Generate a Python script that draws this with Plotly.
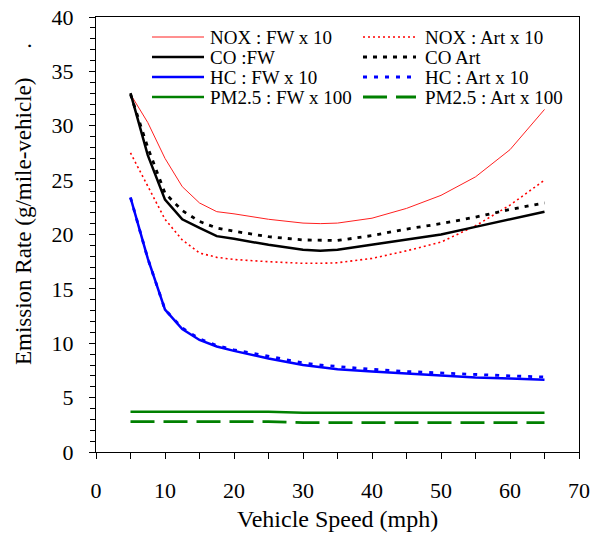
import plotly.graph_objects as go

# ---------------- data ----------------
speed = [5, 7.5, 10, 12.5, 15, 17.5, 20, 25, 30, 32.5, 35, 40, 45, 50, 55, 60, 65]

nox_fw = [32.9, 30.3, 27.0, 24.4, 22.9, 22.1, 21.9, 21.4, 21.05, 21.0, 21.05, 21.5, 22.4, 23.6, 25.3, 27.8, 31.5]
nox_art = [27.5, 24.5, 21.4, 19.5, 18.3, 17.9, 17.7, 17.5, 17.35, 17.35, 17.4, 17.8, 18.5, 19.3, 20.8, 22.7, 25.0]
co_fw = [33.0, 27.3, 23.2, 21.4, 20.6, 19.85, 19.6, 19.05, 18.6, 18.5, 18.6, 19.05, 19.5, 20.0, 20.7, 21.4, 22.1]
co_art = [32.9, 28.0, 23.8, 22.2, 21.2, 20.6, 20.3, 19.8, 19.5, 19.45, 19.45, 19.9, 20.5, 21.0, 21.6, 22.3, 22.9]
hc_fw = [23.4, 17.8, 13.1, 11.3, 10.3, 9.7, 9.3, 8.6, 8.0, 7.8, 7.6, 7.4, 7.2, 7.05, 6.85, 6.75, 6.65]
hc_art = [23.4, 17.8, 13.1, 11.4, 10.4, 9.8, 9.4, 8.8, 8.2, 8.0, 7.85, 7.6, 7.4, 7.25, 7.1, 7.0, 6.9]
pm_fw = [3.7, 3.7, 3.7, 3.7, 3.7, 3.7, 3.7, 3.7, 3.6, 3.6, 3.6, 3.6, 3.6, 3.6, 3.6, 3.6, 3.6]
pm_art = [2.8, 2.8, 2.8, 2.8, 2.8, 2.8, 2.8, 2.8, 2.7, 2.7, 2.7, 2.7, 2.7, 2.7, 2.7, 2.7, 2.7]

series_names = ["NOX : FW x 10", "NOX : Art x 10", "CO :FW", "CO Art",
                "HC : FW x 10", "HC : Art x 10", "PM2.5 : FW x 100", "PM2.5 : Art x 100"]
series_values = [nox_fw, nox_art, co_fw, co_art, hc_fw, hc_art, pm_fw, pm_art]

x_ticks = [0, 10, 20, 30, 40, 50, 60, 70]
y_ticks = [0, 5, 10, 15, 20, 25, 30, 35, 40]

# ---------------- styles ----------------
styles = [
    dict(color="#ff2020", width=1.0, dash="solid"),
    dict(color="#ff0000", width=1.6, dash="2px,3px"),
    dict(color="#000000", width=2.5, dash="solid"),
    dict(color="#000000", width=2.8, dash="4px,6px"),
    dict(color="#0000ff", width=2.5, dash="solid"),
    dict(color="#0000ff", width=2.8, dash="4px,7px"),
    dict(color="#008000", width=2.5, dash="solid"),
    dict(color="#008000", width=2.8, dash="24px,9px"),
]

FONT = "Liberation Serif"
W, H = 600, 535
ML, MR, MT, MB = 96, 21, 17, 83
PW, PH = W - ML - MR, H - MT - MB

fig = go.Figure()
for name, vals, st in zip(series_names, series_values, styles):
    fig.add_trace(go.Scatter(x=speed, y=vals, mode="lines", name=name,
                             line=dict(color=st["color"], width=st["width"], dash=st["dash"]),
                             showlegend=False))

def px_to_paper_x(px):
    return (px - ML) / PW

def px_to_paper_y(py):
    return (H - MB - py) / PH

# custom legend: 2 columns x 4 rows
shapes = []
annotations = []
col_line = [(152, 204), (363, 416)]
col_text = [208, 423]
row_y = [37, 57, 77, 97]
for i, (name, st) in enumerate(zip(series_names, styles)):
    r, c = i // 2, i % 2
    yy = px_to_paper_y(row_y[r])
    shapes.append(dict(type="line", xref="paper", yref="paper",
                       x0=px_to_paper_x(col_line[c][0]), x1=px_to_paper_x(col_line[c][1]),
                       y0=yy, y1=yy,
                       line=dict(color=st["color"], width=st["width"], dash=st["dash"])))
    annotations.append(dict(text=name, xref="paper", yref="paper",
                            x=px_to_paper_x(col_text[c]), y=yy,
                            xanchor="left", yanchor="middle", showarrow=False,
                            font=dict(family=FONT, size=19, color="black")))

# axis titles
annotations.append(dict(text="Emission Rate (g/mile-vehicle)\u00a0\u00a0\u00a0\u00a0\u00a0.",
                        xref="paper", yref="paper",
                        x=px_to_paper_x(23), y=px_to_paper_y(204),
                        xanchor="center", yanchor="middle", textangle=-90,
                        showarrow=False, font=dict(family=FONT, size=23, color="black")))
annotations.append(dict(text="Vehicle Speed (mph)",
                        xref="paper", yref="paper",
                        x=px_to_paper_x(337), y=px_to_paper_y(519),
                        xanchor="center", yanchor="middle",
                        showarrow=False, font=dict(family=FONT, size=24, color="black")))

fig.update_layout(
    width=W, height=H,
    margin=dict(l=ML, r=MR, t=MT, b=MB, autoexpand=False),
    paper_bgcolor="white", plot_bgcolor="white",
    font=dict(family=FONT, size=22, color="black"),
    shapes=shapes, annotations=annotations,
    showlegend=False,
)
fig.update_xaxes(
    range=[0, 70], tickvals=x_ticks, ticktext=[str(v) for v in x_ticks],
    ticks="outside", ticklen=6, tickwidth=1, tickcolor="black",
    minor=dict(dtick=5, tick0=0, ticks="outside", ticklen=6, tickwidth=1, tickcolor="black"),
    showline=True, linecolor="black", linewidth=1, mirror=True,
    showgrid=False, zeroline=False, automargin=False,
    tickfont=dict(family=FONT, size=22),
    ticklabelstandoff=13,
)
fig.update_yaxes(
    range=[0, 40], tickvals=y_ticks, ticktext=[str(v) for v in y_ticks],
    ticks="outside", ticklen=6, tickwidth=1, tickcolor="black",
    minor=dict(dtick=1, tick0=0, ticks="outside", ticklen=5, tickwidth=1, tickcolor="black"),
    showline=True, linecolor="black", linewidth=1, mirror=True,
    showgrid=False, zeroline=False, automargin=False,
    tickfont=dict(family=FONT, size=22),
    ticklabelstandoff=11,
)

fig.write_html("out.html",
               config={"displayModeBar": False},
               post_script="document.body.style.margin='0';document.body.style.padding='0';")
